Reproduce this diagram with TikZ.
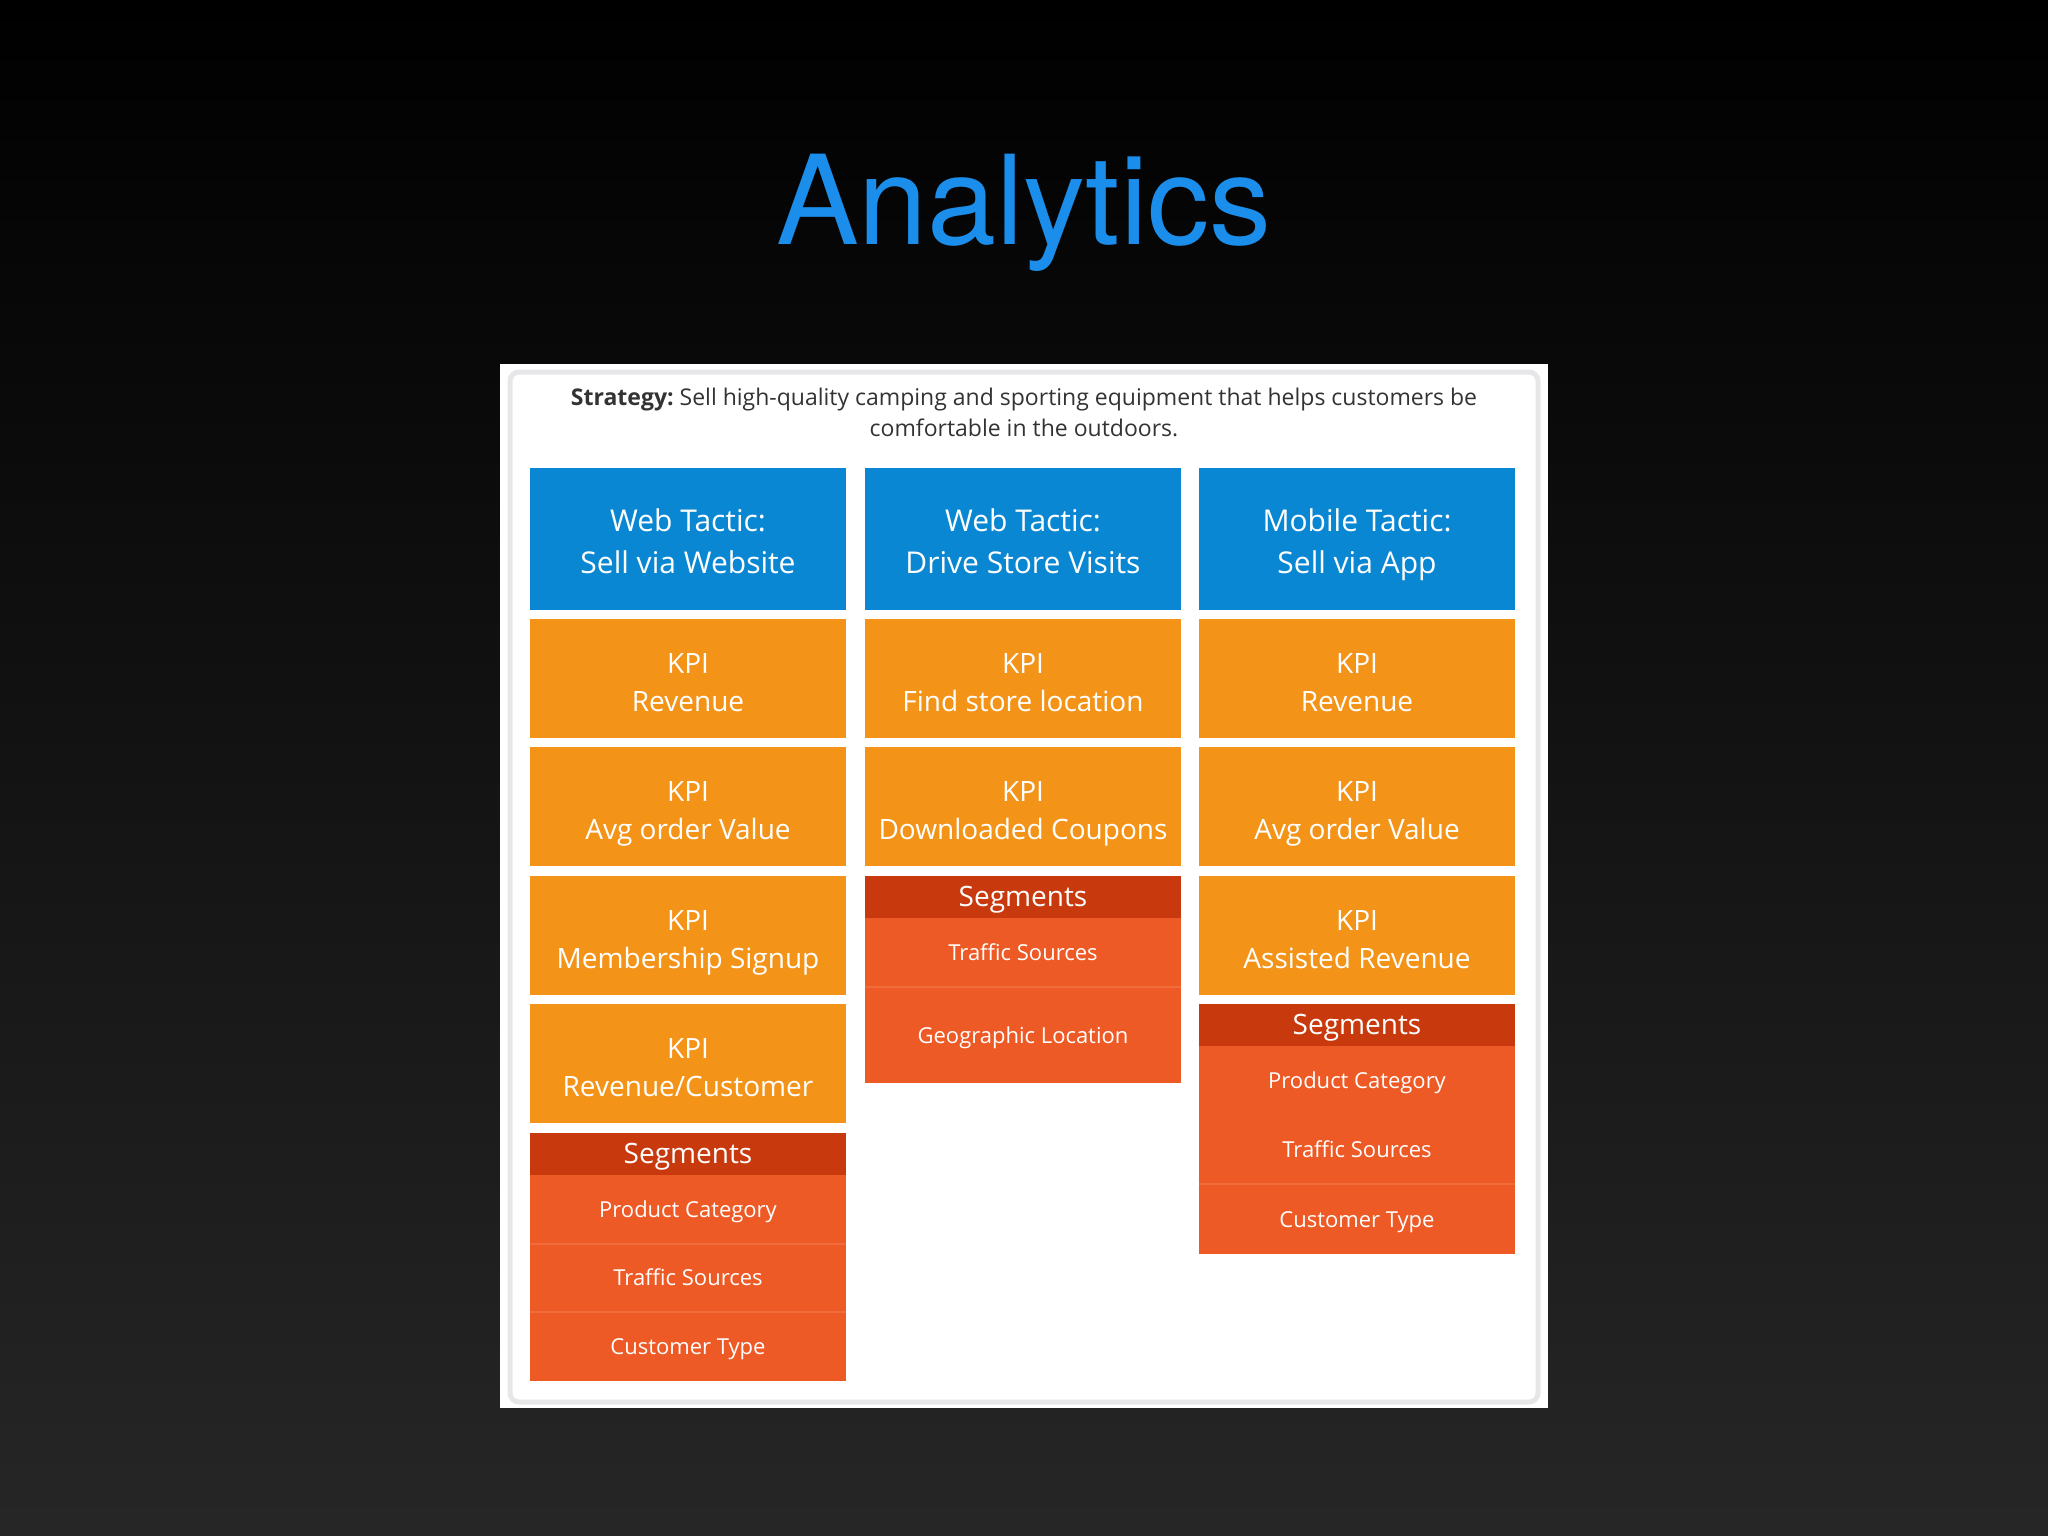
\documentclass[tikz,border=0pt]{standalone}
\usepackage{fontspec}
\setmainfont{Open Sans}
\newfontfamily\titlefont{TeX Gyre Heros}
\usepackage{xcolor}
\usepackage{tikz}
\usetikzlibrary{positioning}

\definecolor{titleblue}{HTML}{1B8EEB}
\definecolor{tacticblue}{HTML}{0A87D2}
\definecolor{kpiorange}{HTML}{F39419}
\definecolor{segdark}{HTML}{C83A0D}
\definecolor{segred}{HTML}{EE5A25}
\definecolor{segline}{HTML}{F26B3A}
\definecolor{framegray}{HTML}{E7E7E9}
\definecolor{strategytext}{HTML}{333333}

% 两行文字, 固定上下高度
\newcommand{\twolines}[2]{\rule{0pt}{35pt}#1\\#2\rule[-7.5pt]{0pt}{7.5pt}}

\begin{document}
\begin{tikzpicture}[
    x=1pt, y=-1pt,
    vpad/.style 2 args={execute at begin node={\rule{0pt}{#1}},
                        execute at end node={\rule[-#2]{0pt}{#2}}},
    box/.style={inner sep=0pt, outer sep=0pt, anchor=north west, text=white,
                align=center, minimum width=316pt},
    tactic/.style={box, fill=tacticblue, minimum height=142pt,
                   font=\fontsize{30}{42}\selectfont},
    kpi/.style={box, fill=kpiorange, minimum height=119pt,
                font=\fontsize{28}{38}\selectfont},
    seghead/.style={box, fill=segdark, minimum height=42pt, vpad={26pt}{7pt},
                    font=\fontsize{28}{34}\selectfont},
    segitem/.style={box, fill=segred, minimum height=69pt, vpad={21pt}{6pt},
                    font=\fontsize{22}{28}\selectfont},
    divider/.style={segline, line width=1.2pt}
]

% 背景
\useasboundingbox (0,0) rectangle (2048,1536);
\shade[top color=black, bottom color=black!85!white] (0,0) rectangle (2048,1536);

% 标题
\node[anchor=base, text=titleblue, font=\titlefont\fontsize{124}{130}\selectfont,
      inner sep=0pt] (title) at (1024,244) {Analytics};

% 白色面板
\fill[white] (500,364) rectangle (1548,1408);
\draw[framegray, line width=5pt, rounded corners=9pt] (510,372) rectangle (1538,1402);

% 策略说明
\node[align=center, text=strategytext, font=\fontsize{23}{31}\selectfont,
      inner sep=0pt] (strategy) at (1024,412)
  {\textbf{Strategy:}\ Sell high-quality camping and sporting equipment that helps customers be\\
   comfortable in the outdoors.};

% 第一列
\node[tactic] (t1) at (530,468) {\twolines{Web Tactic:}{Sell via Website}};
\node[kpi] (k11) at (530,619) {\twolines{KPI}{Revenue}};
\node[kpi] (k12) at (530,747) {\twolines{KPI}{Avg order Value}};
\node[kpi] (k13) at (530,876) {\twolines{KPI}{Membership Signup}};
\node[kpi] (k14) at (530,1004) {\twolines{KPI}{Revenue/Customer}};
\node[seghead] (s1) at (530,1133) {Segments};
\node[segitem] (s11) at (530,1175) {Product Category};
\node[segitem] (s12) at (530,1243) {Traffic Sources};
\node[segitem] (s13) at (530,1312) {Customer Type};

% 第二列
\node[tactic] (t2) at (865,468) {\twolines{Web Tactic:}{Drive Store Visits}};
\node[kpi] (k21) at (865,619) {\twolines{KPI}{Find store location}};
\node[kpi] (k22) at (865,747) {\twolines{KPI}{Downloaded Coupons}};
\node[seghead] (s2) at (865,876) {Segments};
\node[segitem] (s21) at (865,918) {Traffic Sources};
\node[segitem, minimum height=95pt] (s22) at (865,988) {Geographic Location};

% 第三列
\node[tactic] (t3) at (1199,468) {\twolines{Mobile Tactic:}{Sell via App}};
\node[kpi] (k31) at (1199,619) {\twolines{KPI}{Revenue}};
\node[kpi] (k32) at (1199,747) {\twolines{KPI}{Avg order Value}};
\node[kpi] (k33) at (1199,876) {\twolines{KPI}{Assisted Revenue}};
\node[seghead] (s3) at (1199,1004) {Segments};
\node[segitem] (s31) at (1199,1046) {Product Category};
\node[segitem] (s32) at (1199,1115) {Traffic Sources};
\node[segitem] (s33) at (1199,1185) {Customer Type};

% 分隔线
\draw[divider] (s11.south west) -- (s11.south east);
\draw[divider] (s12.south west) -- (s12.south east);
\draw[divider] (s21.south west) -- (s21.south east);
\draw[divider] (s32.south west) -- (s32.south east);

\end{tikzpicture}
\end{document}
